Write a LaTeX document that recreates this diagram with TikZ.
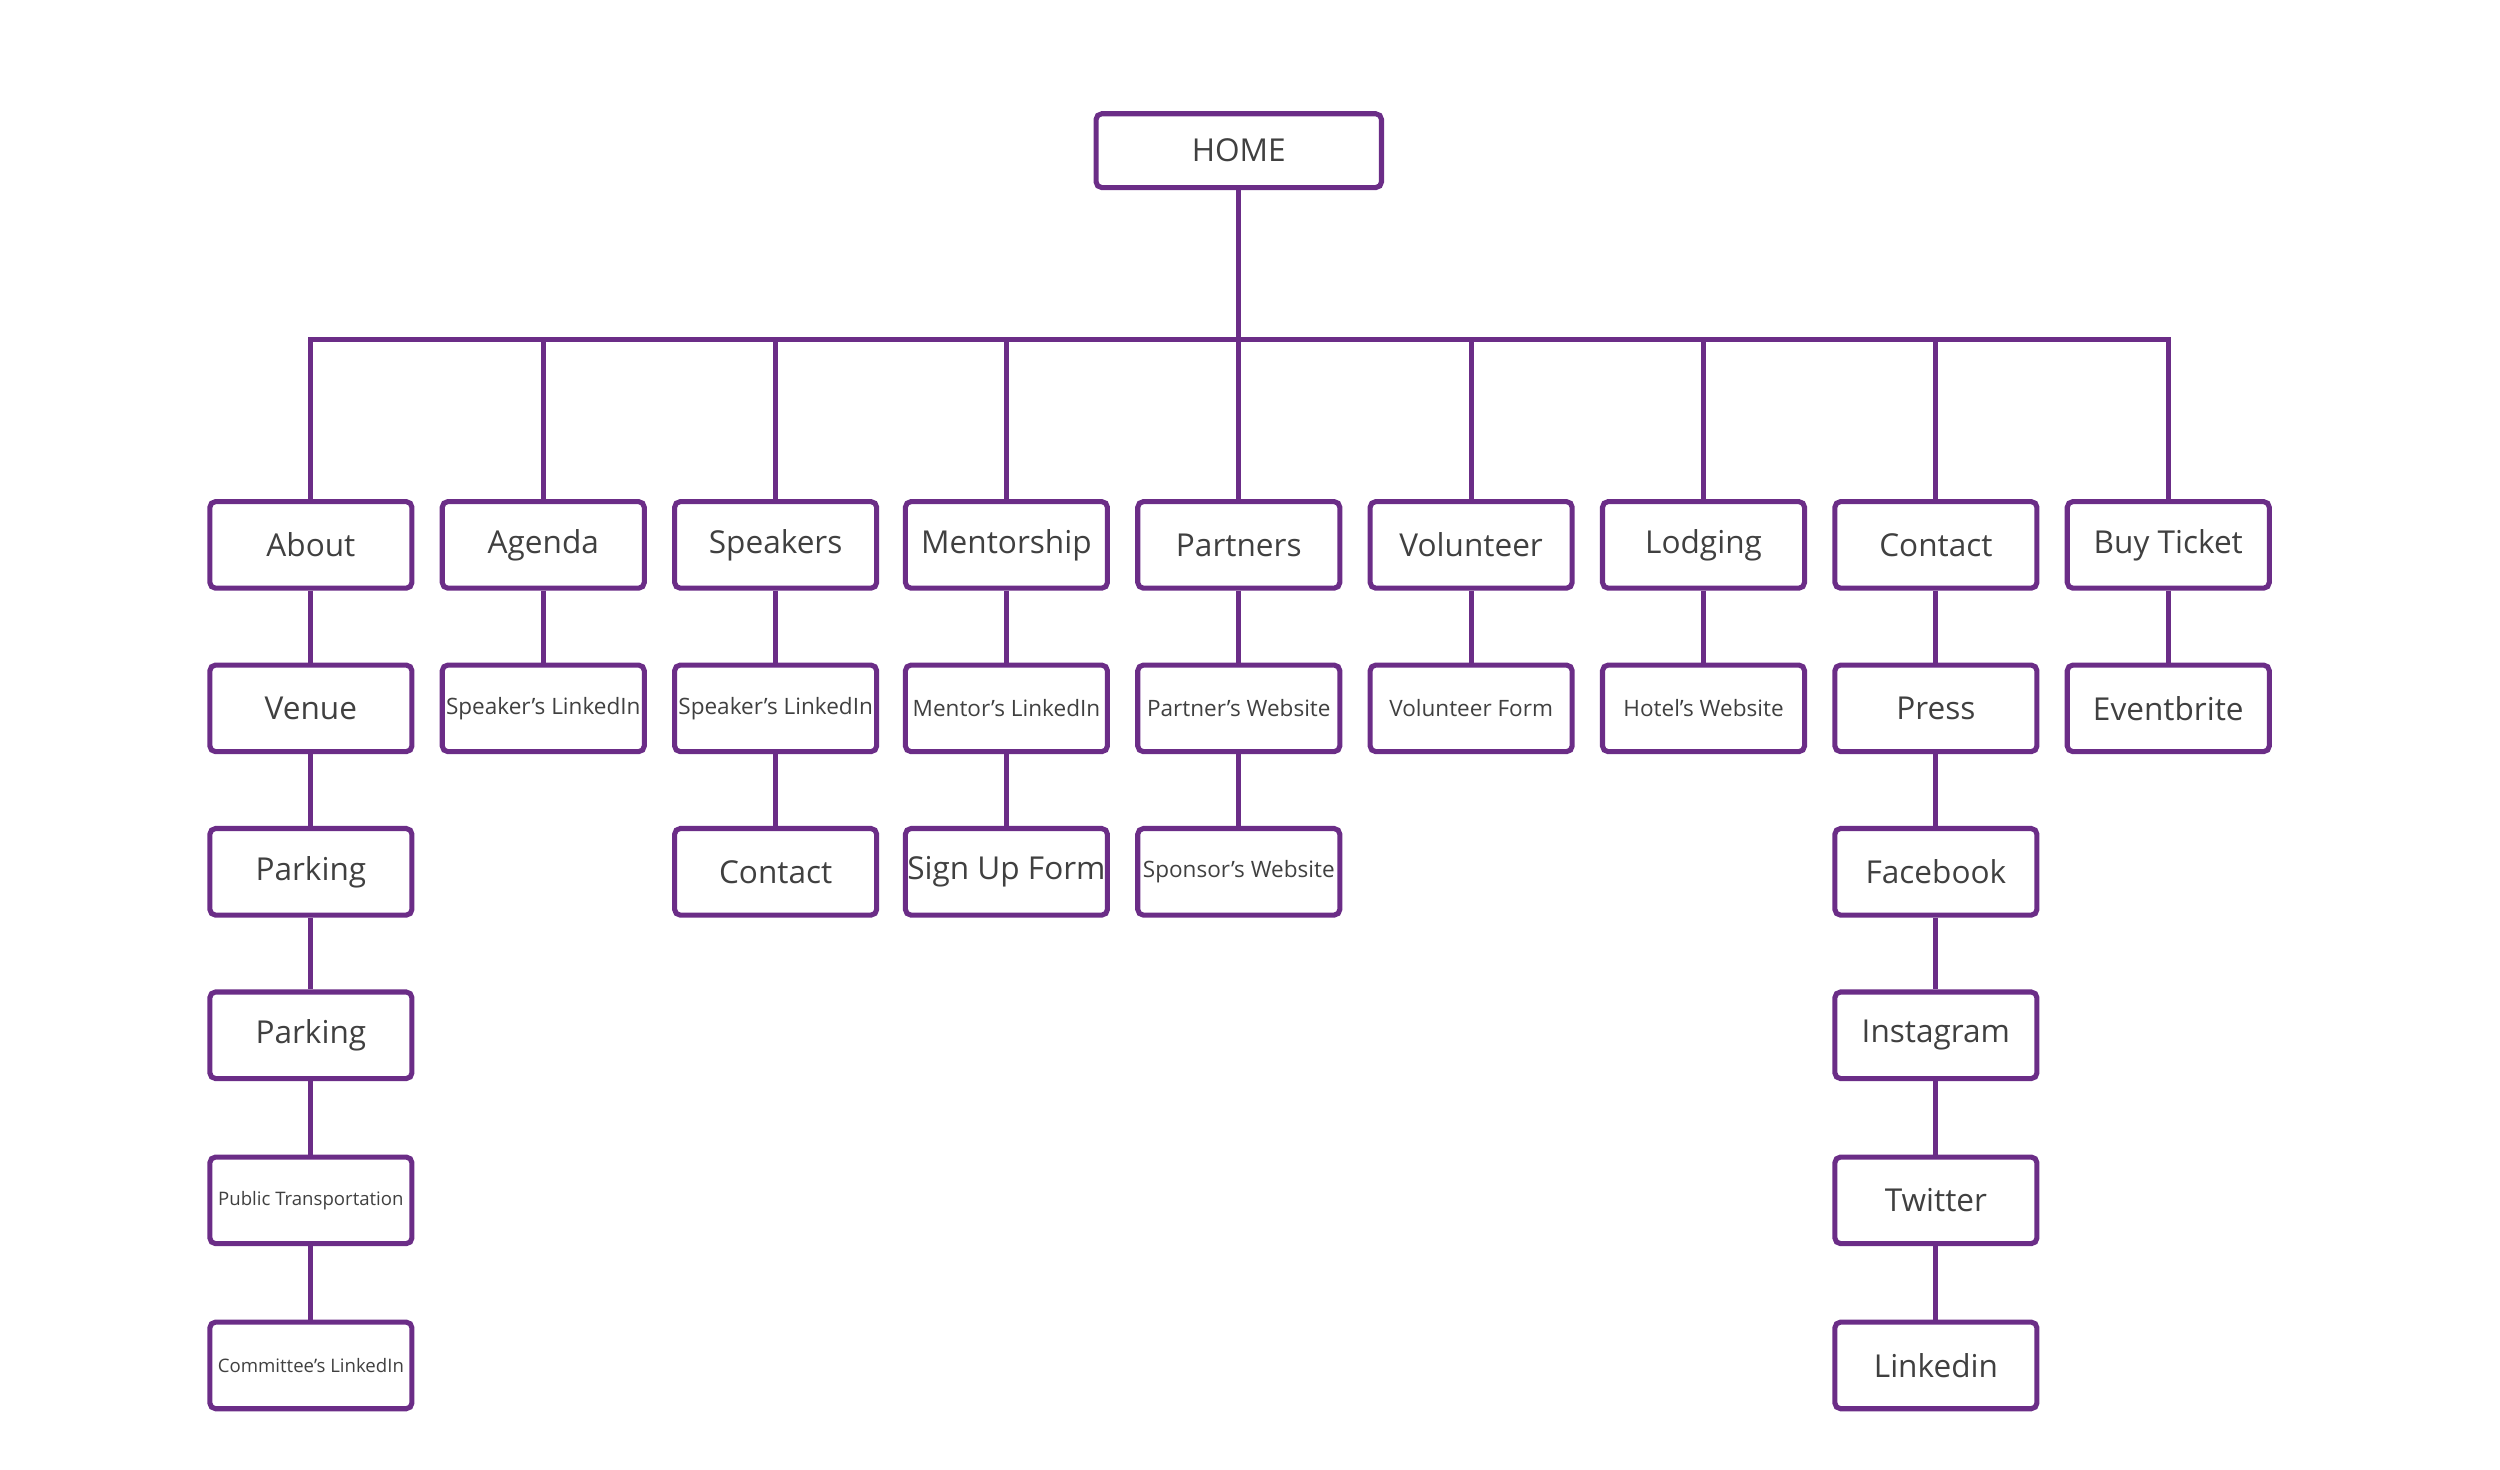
\documentclass[tikz,border=0pt]{standalone}
\usepackage{fontspec}
\setmainfont{Open Sans}
\definecolor{sitepurple}{HTML}{6B2D87}
\definecolor{sitetext}{HTML}{404040}
\tikzset{
  page/.style={draw=sitepurple, line width=0.9pt, rounded corners=1pt,
    minimum width=1.26cm, minimum height=0.54cm, inner sep=0pt,
    text=sitetext, font=\fontsize{5.6}{6}\selectfont},
  small/.style={font=\fontsize{4}{4.5}\selectfont},
  tiny/.style={font=\fontsize{3.3}{4}\selectfont},
  link/.style={draw=sitepurple, line width=0.9pt}
}
\begin{document}
\begin{tikzpicture}[x=0.01cm, y=-0.01cm]
    \useasboundingbox (0,0) rectangle (1560,917);

    \node[page, minimum width=1.78cm, minimum height=0.46cm] (home) at (773,94) {HOME};
    \coordinate (bus) at (773,212);

    % top level
    \node[page] (about) at (194,340) {About};
    \node[page] (agenda) at (339,340) {Agenda};
    \node[page] (speakers) at (484,340) {Speakers};
    \node[page] (mentor) at (628,340) {Mentorship};
    \node[page] (partners) at (773,340) {Partners};
    \node[page] (volunteer) at (918,340) {Volunteer};
    \node[page] (lodging) at (1063,340) {Lodging};
    \node[page] (contact) at (1208,340) {Contact};
    \node[page] (ticket) at (1353,340) {Buy Ticket};

    % second level
    \node[page] (venue) at (194,442) {Venue};
    \node[page, small] (agendali) at (339,442) {Speaker’s LinkedIn};
    \node[page, small] (speakli) at (484,442) {Speaker’s LinkedIn};
    \node[page, small] (mentorli) at (628,442) {Mentor’s LinkedIn};
    \node[page, small] (partnerweb) at (773,442) {Partner's Website};
    \node[page, small] (volform) at (918,442) {Volunteer Form};
    \node[page, small] (hotel) at (1063,442) {Hotel’s Website};
    \node[page] (press) at (1208,442) {Press};
    \node[page] (eventbrite) at (1353,442) {Eventbrite};

    % deeper levels
    \node[page] (parkinga) at (194,544) {Parking};
    \node[page] (parkingb) at (194,646) {Parking};
    \node[page, tiny] (transport) at (194,749) {Public Transportation};
    \node[page, tiny] (committee) at (194,852) {Committee’s LinkedIn};
    \node[page] (speakcontact) at (484,544) {Contact};
    \node[page] (signup) at (628,544) {Sign Up Form};
    \node[page, small] (sponsor) at (773,544) {Sponsor's Website};
    \node[page] (facebook) at (1208,544) {Facebook};
    \node[page] (instagram) at (1208,646) {Instagram};
    \node[page] (twitter) at (1208,749) {Twitter};
    \node[page] (linkedin) at (1208,852) {Linkedin};

    \draw[link] (home) -- (bus);
    \foreach \n in {about,agenda,speakers,mentor,partners,volunteer,lodging,contact,ticket}
    \draw[link] (\n.north) |- (bus);

    \foreach \a/\b in {about/venue,venue/parkinga,parkinga/parkingb,parkingb/transport,
        transport/committee,agenda/agendali,speakers/speakli,speakli/speakcontact,
        mentor/mentorli,mentorli/signup,partners/partnerweb,partnerweb/sponsor,
        volunteer/volform,lodging/hotel,contact/press,press/facebook,
        facebook/instagram,instagram/twitter,twitter/linkedin,ticket/eventbrite}
    \draw[link] (\a) -- (\b);
\end{tikzpicture}
\end{document}
